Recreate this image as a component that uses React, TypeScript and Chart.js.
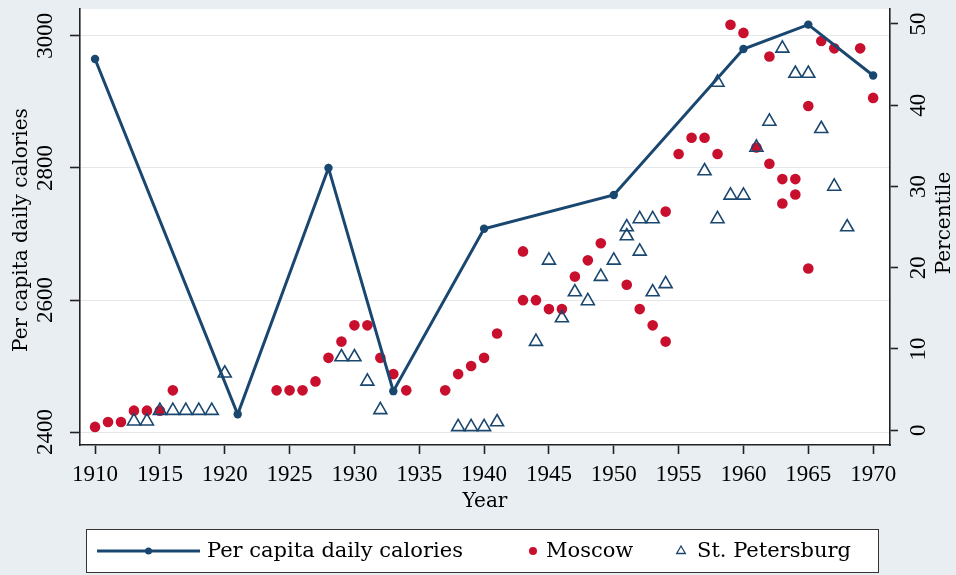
import React, { useEffect, useRef } from 'react';
import { Chart, registerables } from 'chart.js';

Chart.register(...registerables);

// ---------- data ----------
const calorieYears = [1910, 1921, 1928, 1933, 1940, 1950, 1960, 1965, 1970];
const calories = [2965, 2427, 2800, 2462, 2708, 2759, 2980, 3017, 2940];

const moscowYears = [
  1910, 1911, 1912, 1913, 1914, 1915, 1916, 1924, 1925, 1926, 1927, 1928, 1929, 1930,
  1931, 1932, 1933, 1934, 1937, 1938, 1939, 1940, 1941, 1943, 1943, 1944, 1945, 1946,
  1947, 1948, 1949, 1951, 1952, 1953, 1954, 1954, 1955, 1956, 1957, 1958, 1959, 1960,
  1961, 1962, 1962, 1963, 1963, 1964, 1964, 1965, 1965, 1966, 1967, 1969, 1970,
];
const moscowPct = [
  0.4, 1, 1, 2.4, 2.4, 2.4, 4.9, 4.9, 4.9, 4.9, 6, 8.9, 10.9, 12.9,
  12.9, 8.9, 6.9, 4.9, 4.9, 6.9, 7.9, 8.9, 11.9, 22, 16, 16, 14.9, 14.9,
  18.9, 20.9, 23, 17.9, 14.9, 12.9, 10.9, 26.9, 34, 36, 36, 34, 49.9, 48.9,
  34.8, 46, 32.8, 30.9, 27.9, 30.9, 29, 39.9, 19.9, 47.9, 47, 47, 40.9,
];

const spbYears = [
  1913, 1914, 1915, 1916, 1917, 1918, 1919, 1920, 1929, 1930, 1931, 1932, 1938, 1939,
  1940, 1941, 1944, 1945, 1946, 1947, 1948, 1949, 1950, 1951, 1951, 1952, 1952, 1953,
  1953, 1954, 1957, 1958, 1958, 1959, 1960, 1961, 1962, 1963, 1964, 1965, 1966, 1967, 1968,
];
const spbPct = [
  1.1, 1.1, 2.4, 2.4, 2.4, 2.4, 2.4, 7, 9, 9, 6, 2.5, 0.4, 0.4,
  0.4, 1, 10.9, 20.9, 13.8, 17, 15.9, 18.9, 20.9, 23.9, 25, 26, 22, 26,
  17, 18, 31.9, 42.8, 26, 28.9, 28.9, 34.8, 38, 47, 43.9, 43.9, 37.1, 30, 25,
];

const xTicks = [1910, 1915, 1920, 1925, 1930, 1935, 1940, 1945, 1950, 1955, 1960, 1965, 1970];
const calorieTicks = [2400, 2600, 2800, 3000];
const pctTicks = [0, 10, 20, 30, 40, 50];

const seriesNames = ['Per capita daily calories', 'Moscow', 'St. Petersburg'];
const xTitle = 'Year';
const yTitle = 'Per capita daily calories';
const y2Title = 'Percentile';

// ---------- styles ----------
const NAVY = '#1a476f';
const RED = '#c8102e';
const BG = '#e8eef2';
const AXIS = '#222222';
const GRID = '#e4e8ea';
const TICK_FONT = { family: '"Liberation Serif", serif', size: 23 };
const TITLE_FONT = '20px "DejaVu Serif", serif';
const LEGEND_FONT = '21px "DejaVu Serif", serif';

const noPad = (s: any) => {
  s.paddingTop = 0;
  s.paddingBottom = 0;
  s.paddingLeft = 0;
  s.paddingRight = 0;
};

const decor = {
  id: 'decor',
  beforeDraw(chart: any) {
    const { ctx, width, height, chartArea: a } = chart;
    ctx.save();
    ctx.fillStyle = BG;
    ctx.fillRect(0, 0, width, height);
    ctx.fillStyle = '#ffffff';
    ctx.fillRect(a.left, a.top, a.right - a.left, a.bottom - a.top);
    ctx.restore();
  },
  afterDraw(chart: any) {
    const { ctx, chartArea: a } = chart;
    const ds = chart.data.datasets;
    ctx.save();
    ctx.fillStyle = '#000';
    ctx.textBaseline = 'middle';
    ctx.textAlign = 'center';
    ctx.font = TITLE_FONT;
    // left title
    ctx.save();
    ctx.translate(22, (a.top + a.bottom) / 2 + 3);
    ctx.rotate(-Math.PI / 2);
    ctx.fillText(yTitle, 0, 0);
    ctx.restore();
    // right title
    ctx.save();
    ctx.translate(945, (a.top + a.bottom) / 2 - 4);
    ctx.rotate(-Math.PI / 2);
    ctx.fillText(y2Title, 0, 0);
    ctx.restore();

    // legend box
    const bx = 86.5, by = 529.5, bw = 792, bh = 43;
    ctx.fillStyle = '#ffffff';
    ctx.fillRect(bx, by, bw, bh);
    ctx.strokeStyle = '#333';
    ctx.lineWidth = 1;
    ctx.strokeRect(bx, by, bw, bh);
    const cy = by + bh / 2;
    ctx.font = LEGEND_FONT;
    ctx.textAlign = 'left';
    ctx.fillStyle = '#000';
    // item 1: line with marker
    ctx.strokeStyle = ds[0].borderColor;
    ctx.lineWidth = 3;
    ctx.beginPath();
    ctx.moveTo(97, cy);
    ctx.lineTo(200, cy);
    ctx.stroke();
    ctx.fillStyle = ds[0].borderColor;
    ctx.beginPath();
    ctx.arc(148.5, cy, 3.5, 0, Math.PI * 2);
    ctx.fill();
    ctx.fillStyle = '#000';
    ctx.fillText(ds[0].label, 207, cy + 1);
    // item 2: Moscow
    const mos = ds.find((d: any) => d.label === seriesNames[1]);
    ctx.fillStyle = mos.backgroundColor;
    ctx.beginPath();
    ctx.arc(533, cy, 4, 0, Math.PI * 2);
    ctx.fill();
    ctx.fillStyle = '#000';
    ctx.fillText(mos.label, 546, cy + 1);
    // item 3: St. Petersburg
    const spb = ds.find((d: any) => d.label === seriesNames[2]);
    ctx.strokeStyle = spb.borderColor;
    ctx.lineWidth = 1.3;
    const r = 5;
    ctx.beginPath();
    ctx.moveTo(681, cy - r);
    ctx.lineTo(681 + r * 0.866, cy + r / 2);
    ctx.lineTo(681 - r * 0.866, cy + r / 2);
    ctx.closePath();
    ctx.stroke();
    ctx.fillStyle = '#000';
    ctx.fillText(spb.label, 697, cy + 1);
    ctx.restore();
  },
};

export default function App() {
  const ref = useRef<HTMLCanvasElement | null>(null);

  useEffect(() => {
    const canvas = ref.current;
    if (!canvas) return;
    const chart = new Chart(canvas, {
      type: 'scatter',
      data: {
        datasets: [
          {
            type: 'line',
            label: seriesNames[0],
            data: calorieYears.map((x, i) => ({ x, y: calories[i] })),
            yAxisID: 'y',
            borderColor: NAVY,
            backgroundColor: NAVY,
            borderWidth: 3,
            pointRadius: 4.2,
            pointBorderWidth: 0,
            pointStyle: 'circle',
            tension: 0,
            fill: false,
          } as any,
          {
            label: seriesNames[2],
            data: spbYears.map((x, i) => ({ x, y: spbPct[i] })),
            yAxisID: 'y2',
            pointStyle: 'triangle',
            pointRadius: 7.5,
            borderColor: NAVY,
            backgroundColor: 'rgba(0,0,0,0)',
            borderWidth: 1.6,
          },
          {
            label: seriesNames[1],
            data: moscowYears.map((x, i) => ({ x, y: moscowPct[i] })),
            yAxisID: 'y2',
            pointStyle: 'circle',
            pointRadius: 5.3,
            backgroundColor: RED,
            borderColor: RED,
            borderWidth: 0,
          },
        ],
      },
      options: {
        animation: false,
        responsive: false,
        devicePixelRatio: 1,
        layout: { padding: { top: 5, bottom: 55, left: 0, right: 0 } },
        plugins: { legend: { display: false }, tooltip: { enabled: false } },
        scales: {
          x: {
            type: 'linear',
            position: 'bottom',
            min: 1908.84,
            max: 1971.3,
            afterBuildTicks: (s: any) => { s.ticks = xTicks.map((v) => ({ value: v })); },
            afterFit: (s: any) => { s.height = 75; noPad(s); },
            ticks: {
              font: TICK_FONT,
              color: '#000',
              padding: 7,
              maxRotation: 0,
              autoSkip: false,
              callback: (v: any) => String(v),
            },
            grid: { drawOnChartArea: false, drawTicks: true, tickLength: 9, tickColor: AXIS, tickWidth: 1.6 },
            border: { display: true, color: AXIS, width: 1.6 },
            title: {
              display: true,
              text: xTitle,
              font: { family: '"DejaVu Serif", serif', size: 20 },
              color: '#000',
              padding: { top: 0, bottom: 6 },
            },
          },
          y: {
            type: 'linear',
            position: 'left',
            min: 2380.5,
            max: 3040.5,
            afterBuildTicks: (s: any) => { s.ticks = calorieTicks.map((v) => ({ value: v })); },
            afterFit: (s: any) => { s.width = 80; noPad(s); },
            ticks: {
              font: TICK_FONT,
              color: '#000',
              minRotation: 90,
              maxRotation: 90,
              crossAlign: 'center',
              padding: 1,
              autoSkip: false,
              callback: (v: any) => String(v),
            },
            grid: { color: GRID, lineWidth: 1, drawTicks: true, tickLength: 10, tickColor: AXIS, tickWidth: 1.6 },
            border: { display: true, color: AXIS, width: 1.6 },
          },
          y2: {
            type: 'linear',
            position: 'right',
            min: -1.83,
            max: 51.83,
            afterBuildTicks: (s: any) => { s.ticks = pctTicks.map((v) => ({ value: v })); },
            afterFit: (s: any) => { s.width = 66; noPad(s); },
            ticks: {
              font: TICK_FONT,
              color: '#000',
              minRotation: 90,
              maxRotation: 90,
              crossAlign: 'center',
              padding: 9.5,
              autoSkip: false,
              callback: (v: any) => String(v),
            },
            grid: { drawOnChartArea: false, drawTicks: true, tickLength: 8, tickColor: AXIS, tickWidth: 1.6 },
            border: { display: true, color: AXIS, width: 1.6 },
          },
        },
      } as any,
      plugins: [decor],
    });
    return () => chart.destroy();
  }, []);

  return (
    <div style={{ position: 'fixed', left: 0, top: 0, width: 956, height: 575 }}>
      <canvas ref={ref} width={956} height={575} style={{ display: 'block' }} />
    </div>
  );
}
